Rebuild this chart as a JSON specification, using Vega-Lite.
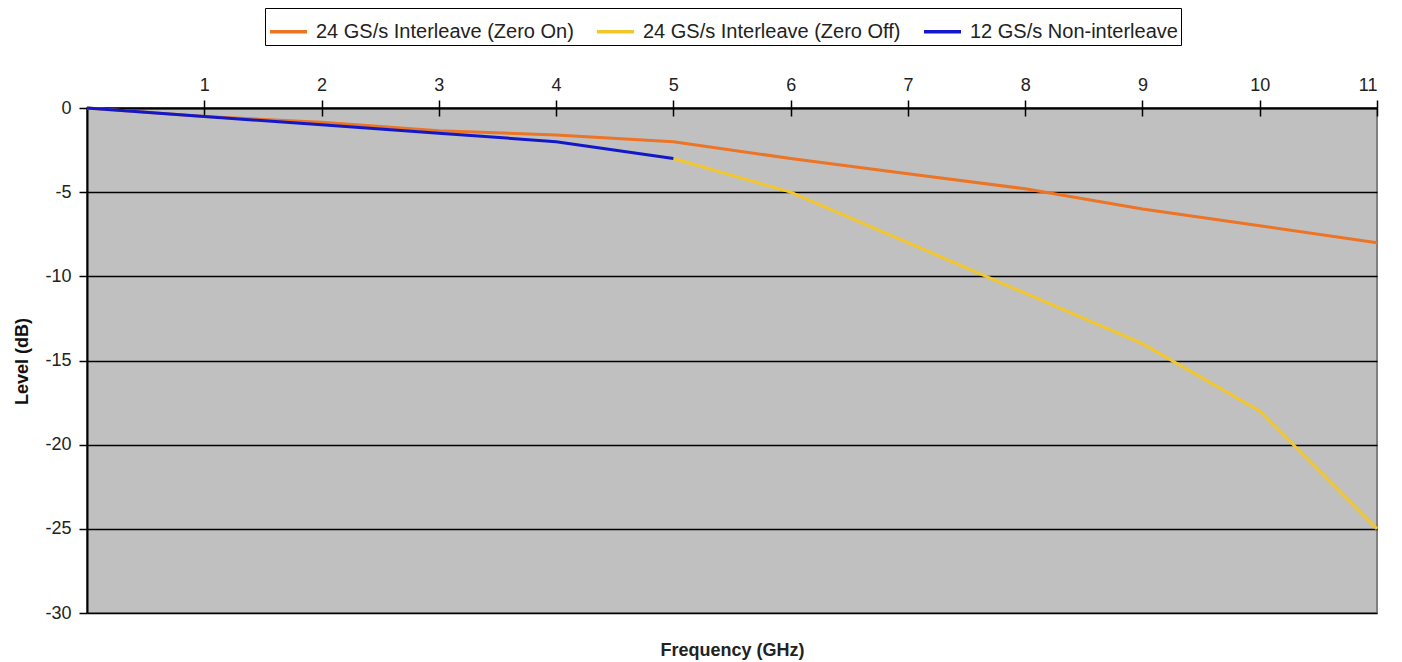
{
  "$schema": "https://vega.github.io/schema/vega-lite/v6.json",
  "width": 1290,
  "height": 505,
  "autosize": {"type": "none"},
  "padding": {"left": 87, "top": 108, "right": 25, "bottom": 49},
  "background": "white",
  "config": {
    "font": "Liberation Sans",
    "view": {"fill": "#C0C0C0", "stroke": "#808080", "strokeWidth": 2}
  },
  "data": {
    "values": [
      {"f": 0, "level": 0, "series": "24 GS/s Interleave (Zero On)"},
      {"f": 1, "level": -0.5, "series": "24 GS/s Interleave (Zero On)"},
      {"f": 2, "level": -0.85, "series": "24 GS/s Interleave (Zero On)"},
      {"f": 3, "level": -1.35, "series": "24 GS/s Interleave (Zero On)"},
      {"f": 4, "level": -1.6, "series": "24 GS/s Interleave (Zero On)"},
      {"f": 5, "level": -2, "series": "24 GS/s Interleave (Zero On)"},
      {"f": 6, "level": -3, "series": "24 GS/s Interleave (Zero On)"},
      {"f": 7, "level": -3.9, "series": "24 GS/s Interleave (Zero On)"},
      {"f": 8, "level": -4.8, "series": "24 GS/s Interleave (Zero On)"},
      {"f": 9, "level": -6, "series": "24 GS/s Interleave (Zero On)"},
      {"f": 10, "level": -7, "series": "24 GS/s Interleave (Zero On)"},
      {"f": 11, "level": -8, "series": "24 GS/s Interleave (Zero On)"},
      {"f": 5, "level": -3, "series": "24 GS/s Interleave (Zero Off)"},
      {"f": 6, "level": -5, "series": "24 GS/s Interleave (Zero Off)"},
      {"f": 7, "level": -8, "series": "24 GS/s Interleave (Zero Off)"},
      {"f": 8, "level": -11, "series": "24 GS/s Interleave (Zero Off)"},
      {"f": 9, "level": -14, "series": "24 GS/s Interleave (Zero Off)"},
      {"f": 10, "level": -18, "series": "24 GS/s Interleave (Zero Off)"},
      {"f": 11, "level": -25, "series": "24 GS/s Interleave (Zero Off)"},
      {"f": 0, "level": 0, "series": "12 GS/s Non-interleave"},
      {"f": 1, "level": -0.5, "series": "12 GS/s Non-interleave"},
      {"f": 2, "level": -1, "series": "12 GS/s Non-interleave"},
      {"f": 3, "level": -1.5, "series": "12 GS/s Non-interleave"},
      {"f": 4, "level": -2, "series": "12 GS/s Non-interleave"},
      {"f": 5, "level": -3, "series": "12 GS/s Non-interleave"}
    ]
  },
  "resolve": {"axis": {"x": "independent"}},
  "layer": [
    {
      "transform": [{"filter": "datum.series !== '12 GS/s Non-interleave'"}],
      "mark": {"type": "line", "strokeWidth": 3},
      "encoding": {
        "x": {
          "field": "f", "type": "quantitative",
          "scale": {"domain": [0, 11], "nice": false},
          "axis": {
            "orient": "top", "values": [1,2,3,4,5,6,7,8,9,10,11],
            "grid": false, "domainColor": "black", "domainWidth": 2,
            "tickColor": "black", "tickWidth": 1.5, "tickSize": 8,
            "labelFontSize": 18, "labelColor": "#222", "labelPadding": 6,
            "title": "Frequency (GHz)", "titleFontSize": 18, "titleFontWeight": "bold",
            "titleColor": "#222", "titleY": 542, "titleBaseline": "middle", "titleX": 645
          }
        },
        "y": {
          "field": "level", "type": "quantitative",
          "scale": {"domain": [-30, 0], "nice": false, "zero": false},
          "axis": {
            "values": [0, -5, -10, -15, -20, -25, -30],
            "labelExpr": "toString(datum.value)",
            "grid": true, "gridColor": "black", "gridWidth": 1.5, "gridOpacity": 1,
            "domainColor": "black", "domainWidth": 2,
            "tickColor": "black", "tickWidth": 1.5, "tickSize": 8,
            "labelFontSize": 18, "labelColor": "#222", "labelPadding": 8,
            "title": "Level (dB)", "titleFontSize": 18, "titleFontWeight": "bold",
            "titleColor": "#111", "titleX": -65, "titleY": 253, "titleAngle": 270,
            "titleBaseline": "middle", "titleAlign": "center"
          }
        },
        "color": {
          "field": "series", "type": "nominal",
          "scale": {
            "domain": ["24 GS/s Interleave (Zero On)", "24 GS/s Interleave (Zero Off)", "12 GS/s Non-interleave"],
            "range": ["#EC7424", "#F2C72E", "#1218C8"]
          },
          "legend": {
            "title": null, "orient": "none", "direction": "horizontal",
            "legendX": 178, "legendY": -100,
            "strokeColor": "black", "fillColor": "white", "padding": 3,
            "symbolType": "stroke", "symbolSize": 1369, "symbolStrokeWidth": 3.5,
            "labelFontSize": 20, "labelColor": "#222", "labelOffset": 7,
            "labelLimit": 0, "columnPadding": 16
          }
        }
      }
    },
    {
      "transform": [{"filter": "datum.series === '12 GS/s Non-interleave'"}],
      "mark": {"type": "line", "strokeWidth": 3},
      "encoding": {
        "x": {
          "field": "f", "type": "quantitative",
          "axis": {
            "orient": "bottom", "offset": -505, "values": [1,2,3,4,5,6,7,8,9,10,11],
            "grid": false, "domain": false, "labels": false, "title": null,
            "tickColor": "black", "tickWidth": 1.5, "tickSize": 8
          }
        },
        "y": {"field": "level", "type": "quantitative"},
        "color": {"field": "series", "type": "nominal"}
      }
    }
  ]
}
